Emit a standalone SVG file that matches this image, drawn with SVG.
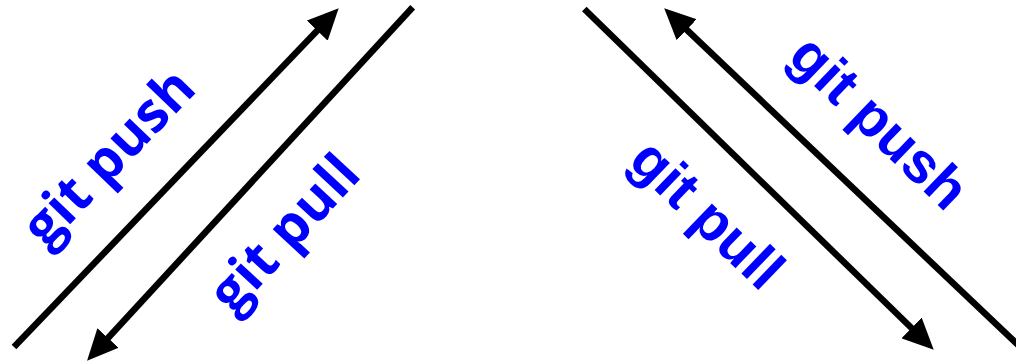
<svg xmlns="http://www.w3.org/2000/svg" width="1016" height="362" viewBox="0 0 1016 362">
<style>
.conn{stroke:#000;stroke-width:6.5;fill:none;marker-end:url(#ah)}
.lbl{font-family:"Open Sans","Liberation Sans",sans-serif;font-weight:700;font-size:55px;fill:#0000ff;text-anchor:middle}
.lbl2{font-family:"Liberation Sans",Arial,sans-serif;font-weight:700;font-size:57px;fill:#0000ff;text-anchor:middle}
</style>
<defs>
<marker id="ah" markerUnits="userSpaceOnUse" viewBox="0 0 31 29" markerWidth="31" markerHeight="29" refX="15" refY="14.5" orient="auto">
<path d="M0,0 L31,14.5 L0,29 z" fill="#000"/>
</marker>
</defs>
<rect width="1016" height="362" fill="#fff"/>
<g id="connectors">
<line class="conn" x1="14" y1="347" x2="327.6" y2="19.8"/>
<line class="conn" x1="412.7" y1="7.3" x2="97.9" y2="349"/>
<line class="conn" x1="584.3" y1="9" x2="922.3" y2="338.5"/>
<line class="conn" x1="1018" y1="345" x2="675.8" y2="19.4"/>
</g>
<g id="label-left-push"><text class="lbl" transform="translate(122,170) rotate(-46.2)">git push</text></g>
<g id="label-left-pull"><text class="lbl" transform="translate(298,246) rotate(-47)">git pull</text></g>
<g id="label-right-pull"><text class="lbl2" transform="translate(694,228) rotate(44)">git pull</text></g>
<g id="label-right-push"><text class="lbl2" transform="translate(866,136) rotate(44)">git push</text></g>
</svg>
